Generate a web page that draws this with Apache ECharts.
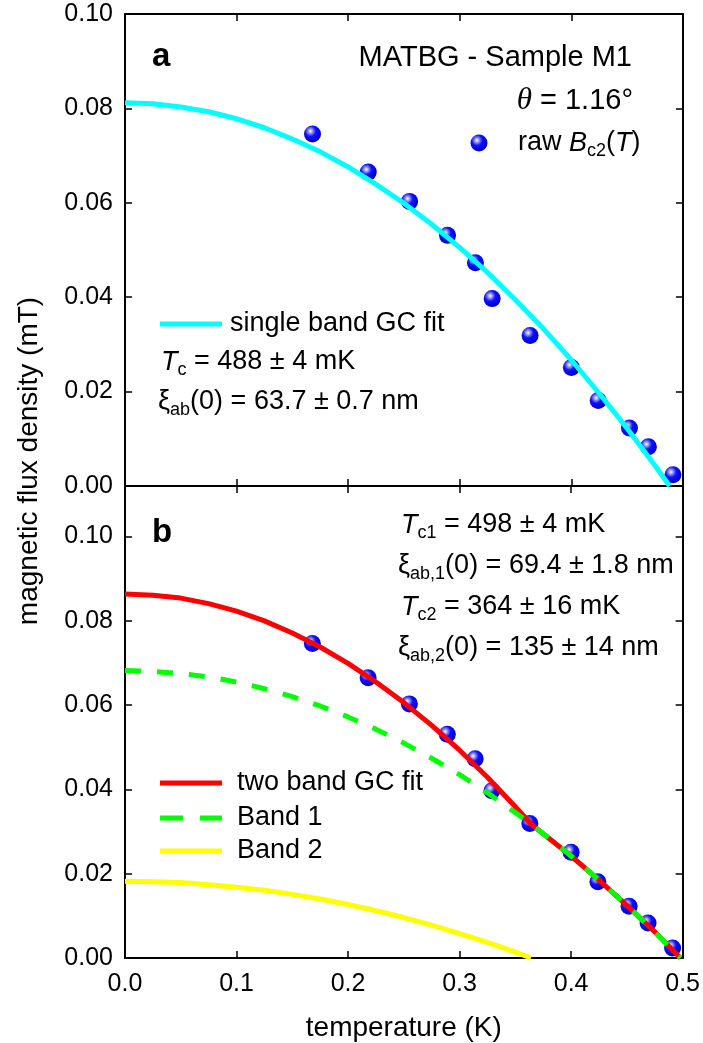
<!DOCTYPE html>
<html><head><meta charset="utf-8">
<script src="https://cdn.jsdelivr.net/npm/echarts@6/dist/echarts.min.js"></script>
<style>html,body{margin:0;padding:0;background:#fff}#c{width:703px;height:1043px}</style>
</head><body><div id="c"></div>
<script>
// ---- data ----
const rawT = [0.168, 0.218, 0.255, 0.289, 0.314, 0.329, 0.363, 0.400, 0.424, 0.452, 0.469, 0.491];
const rawB = [0.0746, 0.0665, 0.0603, 0.0531, 0.0473, 0.0397, 0.0319, 0.0251, 0.0181, 0.0123, 0.0083, 0.0024];

const singleT = [0,0.025,0.05,0.075,0.1,0.125,0.15,0.175,0.2,0.225,0.25,0.275,0.3,0.325,0.35,0.375,0.4,0.425,0.45,0.475,0.488];
const singleB = [0.0812,0.0810,0.0803,0.0793,0.0778,0.0759,0.0735,0.0708,0.0676,0.0639,0.0599,0.0554,0.0505,0.0452,0.0394,0.0333,0.0267,0.0196,0.0122,0.0043,0];

const twoT = [0,0.025,0.05,0.075,0.1,0.125,0.15,0.175,0.2,0.225,0.25,0.275,0.3,0.325,0.35,0.364,0.375,0.4,0.425,0.45,0.475,0.498];
const twoB = [0.0864,0.0861,0.0854,0.0841,0.0823,0.0800,0.0771,0.0738,0.0699,0.0655,0.0606,0.0552,0.0493,0.0429,0.0359,0.0318,0.0295,0.0242,0.0185,0.0125,0.0062,0];

const band1T = [0,0.025,0.05,0.075,0.1,0.125,0.15,0.175,0.2,0.225,0.25,0.275,0.3,0.325,0.35,0.375,0.4,0.425,0.45,0.475,0.498];
const band1B = [0.0682,0.0680,0.0675,0.0667,0.0655,0.0639,0.0620,0.0598,0.0572,0.0543,0.0510,0.0474,0.0435,0.0392,0.0345,0.0295,0.0242,0.0185,0.0125,0.0062,0];

const band2T = [0,0.025,0.05,0.075,0.1,0.125,0.15,0.175,0.2,0.225,0.25,0.275,0.3,0.325,0.35,0.364];
const band2B = [0.0182,0.0181,0.0179,0.0174,0.0168,0.0161,0.0151,0.0140,0.0127,0.0112,0.0096,0.0078,0.0058,0.0037,0.0014,0];

const xTicks = {min: 0, max: 0.5, interval: 0.1};
const yTicksA = {min: 0, max: 0.10, interval: 0.02};
const yTicksB = {min: 0, max: 0.112, interval: 0.02};

// ---- chart ----
const FF = '"Liberation Sans", Arial, Helvetica, sans-serif';
const FS = 25;   // tick labels
const FA = 27;   // annotations
const FT = 28;   // axis titles
const zip = (a, b) => a.map((v, i) => [v, b[i]]);

const chart = echarts.init(document.getElementById('c'), null, {renderer: 'canvas'});

function sphere() {
  return new echarts.graphic.RadialGradient(0.38, 0.34, 0.7, [
    {offset: 0, color: '#ffffff'},
    {offset: 0.18, color: '#9a9aff'},
    {offset: 0.45, color: '#1010ff'},
    {offset: 0.85, color: '#0000d8'},
    {offset: 1, color: '#000090'}
  ]);
}

const axLine = {show: true, onZero: false, lineStyle: {color: '#000', width: 2}};
const axTick = {show: true, inside: true, length: 7, lineStyle: {color: '#000', width: 1.5}};
const isMult = v => Math.abs(v / 0.02 - Math.round(v / 0.02)) < 1e-6;

function xAx(g, pos, lab, extra) {
  return Object.assign({
    type: 'value', gridIndex: g, position: pos, ...xTicks,
    axisLine: axLine, axisTick: axTick, splitLine: {show: false},
    axisLabel: {show: lab, color: '#000', fontSize: FS, fontFamily: FF, margin: 14,
      formatter: v => v.toFixed(1)}
  }, extra || {});
}
function yAx(g, pos, lab, ticks) {
  return {
    type: 'value', gridIndex: g, position: pos, ...ticks,
    axisLine: axLine, axisTick: axTick, splitLine: {show: false},
    axisLabel: {show: lab, color: '#000', fontSize: FS, fontFamily: FF, margin: 12,
      formatter: v => isMult(v) ? v.toFixed(2) : ''}
  };
}

function mkRich(fs) {
  return {
    n: {fontSize: fs, fontFamily: FF, lineHeight: 34, fill: '#000'},
    it: {fontSize: fs, fontFamily: FF, fontStyle: 'italic', lineHeight: 34, fill: '#000'},
    th: {fontSize: fs + 2, fontFamily: '"Liberation Serif", "Times New Roman", serif', fontStyle: 'italic', lineHeight: 34, fill: '#000'},
    sub: {fontSize: 18, fontFamily: FF, lineHeight: 18, verticalAlign: 'bottom', fill: '#000'}
  };
}
function txt(x, y, text, align, fs) {
  fs = fs || FA;
  return {type: 'text', x: x, y: y, z: 100,
    style: {text: text, rich: mkRich(fs), fontSize: fs, fontFamily: FF, fill: '#000',
      textAlign: align || 'left', textVerticalAlign: 'middle'}};
}
function legLine(y, color, dash) {
  return {type: 'line', z: 100, shape: {x1: 160, y1: y, x2: 222, y2: y},
    style: {stroke: color, lineWidth: 5, lineDash: dash || null}};
}

const option = {
  backgroundColor: '#fff',
  animation: false,
  grid: [
    {left: 125, top: 14, width: 558, height: 472},
    {left: 125, top: 486, width: 558, height: 472}
  ],
  xAxis: [
    xAx(0, 'bottom', false),
    xAx(0, 'top', false),
    xAx(1, 'bottom', true, {name: 'temperature (K)', nameLocation: 'middle', nameGap: 56,
      nameTextStyle: {color: '#000', fontSize: FT, fontFamily: FF}}),
    xAx(1, 'top', false)
  ],
  yAxis: [
    yAx(0, 'left', true, yTicksA),
    yAx(0, 'right', false, yTicksA),
    yAx(1, 'left', true, yTicksB),
    yAx(1, 'right', false, yTicksB)
  ],
  series: [
    {type: 'scatter', xAxisIndex: 0, yAxisIndex: 0, data: zip(rawT, rawB), symbolSize: 17, z: 2,
      itemStyle: {color: sphere(), opacity: 1}},
    {type: 'line', xAxisIndex: 0, yAxisIndex: 0, data: zip(singleT, singleB), showSymbol: false, z: 3,
      lineStyle: {color: '#00ffff', width: 5}},
    {type: 'scatter', xAxisIndex: 2, yAxisIndex: 2, data: zip(rawT, rawB), symbolSize: 17, z: 2,
      itemStyle: {color: sphere(), opacity: 1}},
    {type: 'line', xAxisIndex: 2, yAxisIndex: 2, data: zip(band2T, band2B), showSymbol: false, z: 3,
      lineStyle: {color: '#ffff00', width: 5}},
    {type: 'line', xAxisIndex: 2, yAxisIndex: 2, data: zip(twoT, twoB), showSymbol: false, z: 3,
      lineStyle: {color: '#ff0000', width: 5}},
    {type: 'line', xAxisIndex: 2, yAxisIndex: 2, data: zip(band1T, band1B), showSymbol: false, z: 4,
      lineStyle: {color: '#00ff00', width: 5, type: [16, 16]}}
  ],
  graphic: [
    {type: 'text', x: 29, y: 461, rotation: Math.PI / 2, z: 100,
      style: {text: 'magnetic flux density (mT)', fontSize: FT, fontFamily: FF, fill: '#000',
        textAlign: 'center', textVerticalAlign: 'middle'}},
    {type: 'text', x: 152, y: 57, z: 100,
      style: {text: 'a', fontSize: 33, fontWeight: 'bold', fontFamily: FF, fill: '#000', textVerticalAlign: 'middle'}},
    {type: 'text', x: 152, y: 533, z: 100,
      style: {text: 'b', fontSize: 33, fontWeight: 'bold', fontFamily: FF, fill: '#000', textVerticalAlign: 'middle'}},
    txt(632, 58, '{n|MATBG - Sample M1}', 'right', 29),
    txt(633, 101, '{th|θ}{n| = 1.16°}', 'right', 29),
    {type: 'circle', z: 100, shape: {cx: 479, cy: 143, r: 8.5}, style: {fill: sphere()}},
    txt(518, 143, '{n|raw }{it|B}{sub|c2}{n|(}{it|T}{n|)}'),
    legLine(324, '#00ffff'),
    txt(230, 324, '{n|single band GC fit}'),
    txt(161, 362, '{it|T}{sub|c}{n| = 488 ± 4 mK}'),
    txt(158, 402, '{n|ξ}{sub|ab}{n|(0) = 63.7 ± 0.7 nm}'),
    txt(401, 525, '{it|T}{sub|c1}{n| = 498 ± 4 mK}'),
    txt(398, 566, '{n|ξ}{sub|ab,1}{n|(0) = 69.4 ± 1.8 nm}'),
    txt(401, 607, '{it|T}{sub|c2}{n| = 364 ± 16 mK}'),
    txt(398, 648, '{n|ξ}{sub|ab,2}{n|(0) = 135 ± 14 nm}'),
    legLine(783, '#ff0000'),
    txt(237, 783, '{n|two band GC fit}'),
    legLine(818, '#00ff00', [23, 17]),
    txt(237, 818, '{n|Band 1}'),
    legLine(851, '#ffff00'),
    txt(237, 851, '{n|Band 2}')
  ]
};
chart.setOption(option);
</script>
</body></html>
